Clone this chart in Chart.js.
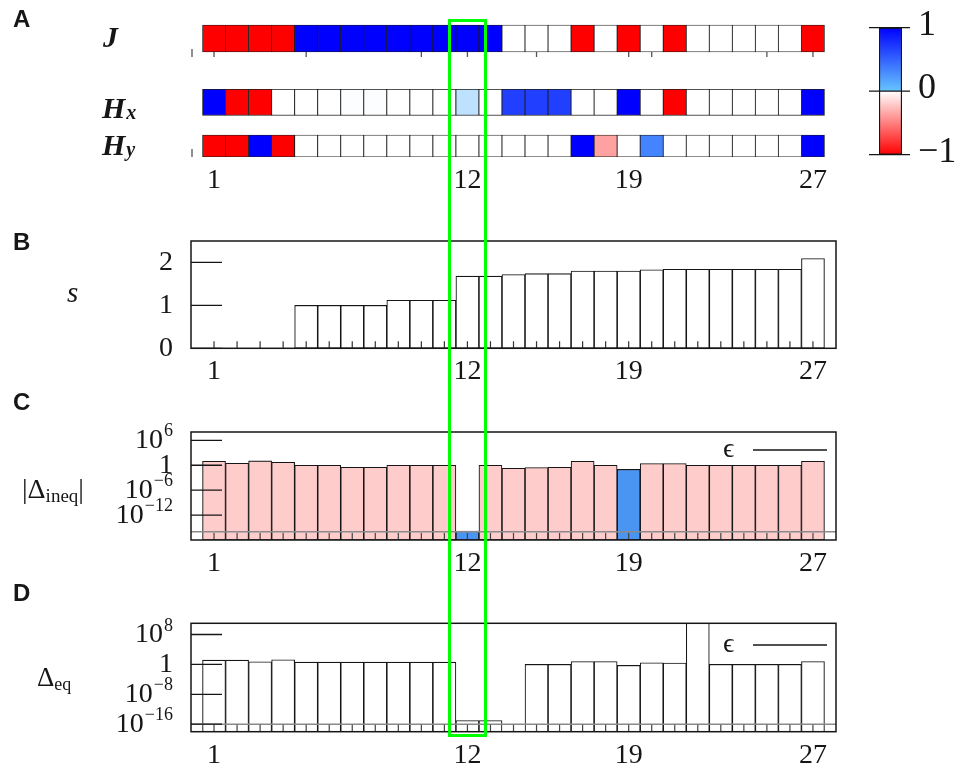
<!DOCTYPE html>
<html>
<head>
<meta charset="utf-8">
<title>Couplings, s, Δineq and Δeq</title>
<script src="https://cdn.jsdelivr.net/npm/chart.js@4.4.1/dist/chart.umd.min.js"></script>
<style>
html,body{margin:0;padding:0;background:#ffffff;}
#wrap{position:relative;width:968px;height:772px;overflow:hidden;background:#ffffff;}
#wrap canvas{position:absolute;}
#hl{position:absolute;border:3px solid #00ff00;box-sizing:border-box;pointer-events:none;}
</style>
</head>
<body>
<div id="wrap">
  <canvas id="cA" width="860" height="200" style="left:0px;top:0px"></canvas>
  <canvas id="cCbar" width="108" height="175" style="left:860px;top:0px"></canvas>
  <canvas id="cB" width="860" height="170" style="left:0px;top:225px"></canvas>
  <canvas id="cC" width="860" height="200" style="left:0px;top:385px"></canvas>
  <canvas id="cD" width="860" height="197" style="left:0px;top:575px"></canvas>
  <div id="hl"></div>
</div>
<script>
// ================= DATA =================
const categories = [1,2,3,4,5,6,7,8,9,10,11,12,13,14,15,16,17,18,19,20,21,22,23,24,25,26,27];
const xTickLabels = [1, 12, 19, 27];
const highlightCategory = 12;

// Panel A heat-map rows (colour value in [-1, 1])
const J  = [-1,-1,-1,-1, 1, 1, 1, 1, 1, 1, 1, 1, 1, 0, 0, 0,-1, 0,-1, 0,-1, 0, 0, 0, 0, 0,-1];
const Hx = [ 1,-1,-1, 0, 0, 0, 0.003, 0.003, 0, 0, 0, 0.05, 0, 0.7, 0.7, 0.7, 0, 0, 1, 0,-1, 0, 0, 0, 0, 0, 1];
const Hy = [-1,-1, 1,-1, 0, 0, 0, 0, 0, 0, 0, 0, 0, 0, 0, 0, 1,-0.37, 0, 0.37, 0, 0, 0, 0, 0, 0, 1];
const jRowTicks = [1, 5, 10, 12, 15, 19, 20, 25, 27];
const cbarTicks = [-1, 0, 1];
const cbarTickLabels = ['\u22121', '0', '1'];

// Panel B
const s = [0,0,0,0, 1.0,1.0,1.0,1.0, 1.12,1.12,1.12, 1.68,1.68,1.72,1.74,1.74, 1.80,1.80,1.80, 1.83,1.84,1.84,1.84,1.84,1.84,1.84, 2.09];
const sTicks = [0, 1, 2];
const sTickLabels = ['0', '1', '2'];

// Panel C  |Δineq|  (sign: +1 pink, -1 blue)
const dIneq = [9, 3, 11, 5, 1, 1, 0.32, 0.32, 1, 1, 1, 1.5e-16, 1, 0.19, 0.27, 0.32, 9, 1, 0.1, 2.5, 2.5, 1, 1, 1, 1, 1, 9];
const dIneqSign = [1,1,1,1,1,1,1,1,1,1,1,-1,1,1,1,1,1,1,-1,1,1,1,1,1,1,1,1];
const ineqTicks = [1e6, 1, 1e-6, 1e-12];
const ineqTickLabels = ['10^6', '1', '10^\u22126', '10^\u221212'];

// Panel D  Δeq
const dEq = [14, 14, 5, 18, 4, 4, 4, 4, 4, 4, 4, 1e-15, 1e-15, null, 1, 1, 6, 6, 0.55, 2.8, 2.3, 1e12, 1, 1, 1, 1, 6];
const eqTicks = [1e8, 1, 1e-8, 1e-16];
const eqTickLabels = ['10^8', '1', '10^\u22128', '10^\u221216'];

const epsilon = 1e-16;

// ================= STYLE / LAYOUT =================
const SERIF = '"Liberation Serif","DejaVu Serif",serif';
const SANS = '"Liberation Sans","DejaVu Sans",sans-serif';
const INK = '#161616';
const PINK = '#ffcccc';
const BLUE = '#4a94f2';
const ROW_SPAN = { J: [5, 32], Hx: [69.3, 95.3], Hy: [115, 137] };

function cmap(v) {
  if (v === 0) return 'rgb(255,255,255)';
  if (v > 0) {
    if (v <= 0.12) {
      const f = v / 0.12;
      return `rgb(${Math.round(255 - 159 * f)},${Math.round(255 - 71 * f)},255)`;
    }
    const f = Math.min(1, (v - 0.12) / 0.88);
    return `rgb(${Math.round(96 * (1 - f))},${Math.round(184 * (1 - f))},255)`;
  }
  const f = Math.min(1, -v);
  const c = Math.round(255 * (1 - f));
  return `rgb(255,${c},${c})`;
}

function drawRuns(ctx, runs, x, y) {
  ctx.textAlign = 'left';
  ctx.textBaseline = 'alphabetic';
  let cx = x;
  for (const r of runs) {
    ctx.font = r.font;
    ctx.fillText(r.t, cx, y + (r.dy || 0));
    cx += ctx.measureText(r.t).width + (r.gap || 0);
  }
}

function drawTickLabel(ctx, lab, xr, py) {
  const parts = lab.split('^');
  const b = parts[0], e = parts[1];
  const bigF = `28px ${SERIF}`, smallF = `18px ${SERIF}`;
  ctx.textAlign = 'left';
  ctx.textBaseline = 'alphabetic';
  ctx.font = bigF;
  const wb = ctx.measureText(b).width;
  let we = 0;
  if (e) { ctx.font = smallF; we = ctx.measureText(e).width + 1; }
  ctx.font = bigF;
  ctx.fillText(b, xr - wb - we, py + 7.5);
  if (e) { ctx.font = smallF; ctx.fillText(e, xr - we + 1, py - 4); }
}

const panelDeco = {
  id: 'panelDeco',
  afterDatasetsDraw(chart, args, o) {
    const ctx = chart.ctx, a = chart.chartArea, xs = chart.scales.x, ys = chart.scales.y;
    const T = o.pageTop || 0;
    ctx.save();
    ctx.lineCap = 'butt';
    if (o.xTickLen) {
      ctx.strokeStyle = o.xTickColor || '#333';
      ctx.lineWidth = 1.2;
      ctx.beginPath();
      for (const c of categories) {
        const px = xs.getPixelForValue(c);
        ctx.moveTo(px, a.bottom);
        ctx.lineTo(px, a.bottom - o.xTickLen);
      }
      ctx.stroke();
    }
    if (o.rowTicks) {
      ctx.strokeStyle = '#555';
      ctx.lineWidth = 1.3;
      ctx.beginPath();
      const y0 = ys.getPixelForValue(ROW_SPAN.J[1]);
      for (const c of o.rowTicks) {
        const px = xs.getPixelForValue(c);
        ctx.moveTo(px, y0);
        ctx.lineTo(px, y0 + 5);
      }
      const yb = ys.getPixelForValue(ROW_SPAN.Hy[1]);
      ctx.moveTo(a.left + 1, y0 - 3); ctx.lineTo(a.left + 1, y0 + 5);
      ctx.moveTo(a.left + 1, yb - 8); ctx.lineTo(a.left + 1, yb);
      ctx.stroke();
    }
    if (o.yTicks) {
      ctx.strokeStyle = INK;
      ctx.lineWidth = 1.3;
      ctx.beginPath();
      for (const v of o.yTicks) {
        const py = ys.getPixelForValue(v);
        ctx.moveTo(a.left, py);
        ctx.lineTo(a.left + o.yTickLen, py);
      }
      ctx.stroke();
    }
    if (o.frame) {
      ctx.strokeStyle = INK;
      ctx.lineWidth = 1.5;
      ctx.strokeRect(a.left, a.top, a.right - a.left, a.bottom - a.top);
    }
    ctx.fillStyle = INK;
    if (o.yLabels) {
      o.yTicks.forEach((v, i) => drawTickLabel(ctx, o.yLabels[i], a.left - 18, ys.getPixelForValue(v)));
    }
    if (o.eps) {
      ctx.strokeStyle = INK;
      ctx.lineWidth = 1.3;
      ctx.beginPath();
      ctx.moveTo(o.eps.x0, o.eps.y - T);
      ctx.lineTo(o.eps.x1, o.eps.y - T);
      ctx.stroke();
      drawRuns(ctx, [{ t: '\u03F5', font: `28px ${SERIF}` }], o.eps.tx, o.eps.y + 7 - T);
    }
    for (const it of (o.texts || [])) drawRuns(ctx, it.runs, it.x, it.y - T);
    ctx.restore();
  }
};

const cbarDeco = {
  id: 'cbarDeco',
  afterDatasetsDraw(chart) {
    const ctx = chart.ctx, a = chart.chartArea, ys = chart.scales.y;
    ctx.save();
    ctx.strokeStyle = INK;
    ctx.lineWidth = 1.3;
    ctx.beginPath();
    for (const v of cbarTicks) {
      const py = ys.getPixelForValue(v);
      ctx.moveTo(a.left - 10, py);
      ctx.lineTo(a.right + 8, py);
    }
    ctx.stroke();
    ctx.fillStyle = INK;
    ctx.font = `36px ${SERIF}`;
    ctx.textAlign = 'left';
    ctx.textBaseline = 'alphabetic';
    cbarTicks.forEach((v, i) => {
      const py = ys.getPixelForValue(v);
      ctx.fillText(cbarTickLabels[i], a.right + 16, py + 7);
    });
    ctx.restore();
  }
};

function xScale() {
  return {
    type: 'linear', min: 0, max: 28, offset: false,
    afterBuildTicks: sc => { sc.ticks = xTickLabels.map(v => ({ value: v })); },
    afterFit: sc => { sc.height = 40; },
    grid: { display: false, drawTicks: false },
    border: { display: false },
    ticks: {
      autoSkip: false, maxRotation: 0, minRotation: 0, padding: 7, color: INK,
      font: { family: SERIF, size: 28 },
      callback: v => String(v)
    }
  };
}

function baseOptions(padding, yScale, deco) {
  return {
    responsive: false, maintainAspectRatio: false, animation: false, devicePixelRatio: 1,
    events: [],
    layout: { padding },
    plugins: { legend: { display: false }, tooltip: { enabled: false }, title: { display: false }, panelDeco: deco },
    scales: { x: xScale(), y: yScale }
  };
}

const letterFont = `bold 24px ${SANS}`;
const mathIt = `italic bold 30px ${SERIF}`;
const mathItSub = `italic bold 20px ${SERIF}`;

// ---------- Panel A: heat map ----------
function rowDataset(label, vals, span) {
  return {
    label,
    data: categories.map(c => ({ x: c, y: [span[0], span[1]] })),
    backgroundColor: vals.map(cmap),
    borderColor: '#1a1a1a',
    borderWidth: 0.8,
    borderSkipped: false,
    grouped: false,
    barPercentage: 1,
    categoryPercentage: 1
  };
}

const chartA = new Chart(document.getElementById('cA'), {
  type: 'bar',
  data: { datasets: [rowDataset('J', J, ROW_SPAN.J), rowDataset('Hx', Hx, ROW_SPAN.Hx), rowDataset('Hy', Hy, ROW_SPAN.Hy)] },
  options: baseOptions(
    { left: 191, right: 24, top: 20, bottom: 3 },
    { type: 'linear', display: false, reverse: true, min: 0, max: 137 },
    {
      pageTop: 0,
      rowTicks: jRowTicks,
      texts: [
        { x: 13, y: 27, runs: [{ t: 'A', font: letterFont }] },
        { x: 103, y: 47, runs: [{ t: 'J', font: mathIt }] },
        { x: 102, y: 118, runs: [{ t: 'H', font: mathIt, gap: 1 }, { t: 'x', font: mathItSub, dy: 1 }] },
        { x: 102, y: 155, runs: [{ t: 'H', font: mathIt, gap: 1 }, { t: 'y', font: mathItSub, dy: 1 }] }
      ]
    }
  ),
  plugins: [panelDeco]
});

// ---------- colour bar ----------
new Chart(document.getElementById('cCbar'), {
  type: 'bar',
  data: {
    labels: ['scale'],
    datasets: [{
      data: [[cbarTicks[0], cbarTicks[2]]],
      backgroundColor: c => {
        const ch = c.chart, a = ch.chartArea;
        if (!a) return '#ffffff';
        const g = ch.ctx.createLinearGradient(0, a.top, 0, a.bottom);
        g.addColorStop(0, '#0000ff');
        g.addColorStop(0.5, '#66c6ff');
        g.addColorStop(0.5, '#ffffff');
        g.addColorStop(1, '#ff0000');
        return g;
      },
      borderColor: INK, borderWidth: 1.5, borderSkipped: false,
      barPercentage: 1, categoryPercentage: 1
    }]
  },
  options: {
    responsive: false, maintainAspectRatio: false, animation: false, devicePixelRatio: 1, events: [],
    layout: { padding: { left: 19, right: 66, top: 27.7, bottom: 20.3 } },
    plugins: { legend: { display: false }, tooltip: { enabled: false } },
    scales: { x: { display: false }, y: { display: false, min: -1, max: 1 } }
  },
  plugins: [cbarDeco]
});

// ---------- Panel B: s ----------
const chartB = new Chart(document.getElementById('cB'), {
  type: 'bar',
  data: { datasets: [{
    label: 's',
    data: categories.map((c, i) => ({ x: c, y: s[i] })),
    backgroundColor: '#ffffff', borderColor: INK, borderWidth: 1.1, borderSkipped: false,
    barPercentage: 1, categoryPercentage: 1
  }] },
  options: baseOptions(
    { left: 191, right: 24, top: 16, bottom: 6.7 },
    { type: 'linear', display: false, min: 0, max: 2.5 },
    {
      pageTop: 225, xTickLen: 7, xTickColor: '#333', yTicks: sTicks, yTickLen: 31, yLabels: sTickLabels, frame: true,
      texts: [
        { x: 13, y: 250, runs: [{ t: 'B', font: letterFont }] },
        { x: 67, y: 302, runs: [{ t: 's', font: `italic 29px ${SERIF}` }] }
      ]
    }
  ),
  plugins: [panelDeco]
});

// ---------- Panel C: |Δineq| ----------
new Chart(document.getElementById('cC'), {
  type: 'bar',
  data: { datasets: [
    {
      type: 'line', label: 'epsilon', order: 0,
      data: [{ x: 0, y: epsilon }, { x: 28, y: epsilon }],
      borderColor: '#8a8a8a', borderWidth: 1.4, pointRadius: 0, fill: false
    },
    {
      label: '|Δineq|', order: 1,
      data: categories.map((c, i) => ({ x: c, y: dIneq[i] })),
      backgroundColor: dIneqSign.map(v => v < 0 ? BLUE : PINK),
      borderColor: INK, borderWidth: 1.1, borderSkipped: false,
      barPercentage: 1, categoryPercentage: 1
    }
  ] },
  options: baseOptions(
    { left: 191, right: 24, top: 47, bottom: 5 },
    { type: 'logarithmic', display: false, min: 1e-18, max: 1e8 },
    {
      pageTop: 385, xTickLen: 7, xTickColor: '#444', yTicks: ineqTicks, yTickLen: 31, yLabels: ineqTickLabels, frame: true,
      eps: { x0: 753, x1: 827, y: 450, tx: 723 },
      texts: [
        { x: 13, y: 410, runs: [{ t: 'C', font: letterFont }] },
        { x: 22, y: 498, runs: [
          { t: '|\u0394', font: `28px ${SERIF}` },
          { t: 'ineq', font: `19px ${SERIF}`, dy: 4 },
          { t: '|', font: `28px ${SERIF}` }
        ] }
      ]
    }
  ),
  plugins: [panelDeco]
});

// ---------- Panel D: Δeq ----------
const chartD = new Chart(document.getElementById('cD'), {
  type: 'bar',
  data: { datasets: [
    {
      type: 'line', label: 'epsilon', order: 0,
      data: [{ x: 0, y: epsilon }, { x: 28, y: epsilon }],
      borderColor: '#8a8a8a', borderWidth: 1.4, pointRadius: 0, fill: false
    },
    {
      label: 'Δeq', order: 1,
      data: categories.map((c, i) => ({ x: c, y: dEq[i] })),
      backgroundColor: '#ffffff',
      borderColor: INK, borderWidth: 1.1, borderSkipped: false,
      barPercentage: 1, categoryPercentage: 1
    }
  ] },
  options: baseOptions(
    { left: 191, right: 24, top: 48.3, bottom: 0.3 },
    { type: 'logarithmic', display: false, min: 1e-18, max: 1e11 },
    {
      pageTop: 575, xTickLen: 7, xTickColor: '#444', yTicks: eqTicks, yTickLen: 31, yLabels: eqTickLabels, frame: true,
      eps: { x0: 753, x1: 827, y: 645, tx: 723 },
      texts: [
        { x: 13, y: 601, runs: [{ t: 'D', font: letterFont }] },
        { x: 37, y: 686, runs: [
          { t: '\u0394', font: `27px ${SERIF}` },
          { t: 'eq', font: `18px ${SERIF}`, dy: 4 }
        ] }
      ]
    }
  ),
  plugins: [panelDeco]
});

// ---------- highlight box around the chosen category ----------
(function () {
  const xs = chartB.scales.x;
  const cx = xs.getPixelForValue(highlightCategory);
  const unit = xs.getPixelForValue(1) - xs.getPixelForValue(0);
  const halfW = 0.84 * unit;
  const top = chartA.chartArea.top - 1;
  const bottom = 575 + chartD.chartArea.bottom + 5;
  const hl = document.getElementById('hl');
  hl.style.left = (cx - halfW) + 'px';
  hl.style.width = (2 * halfW) + 'px';
  hl.style.top = top + 'px';
  hl.style.height = (bottom - top) + 'px';
})();
</script>
</body>
</html>
